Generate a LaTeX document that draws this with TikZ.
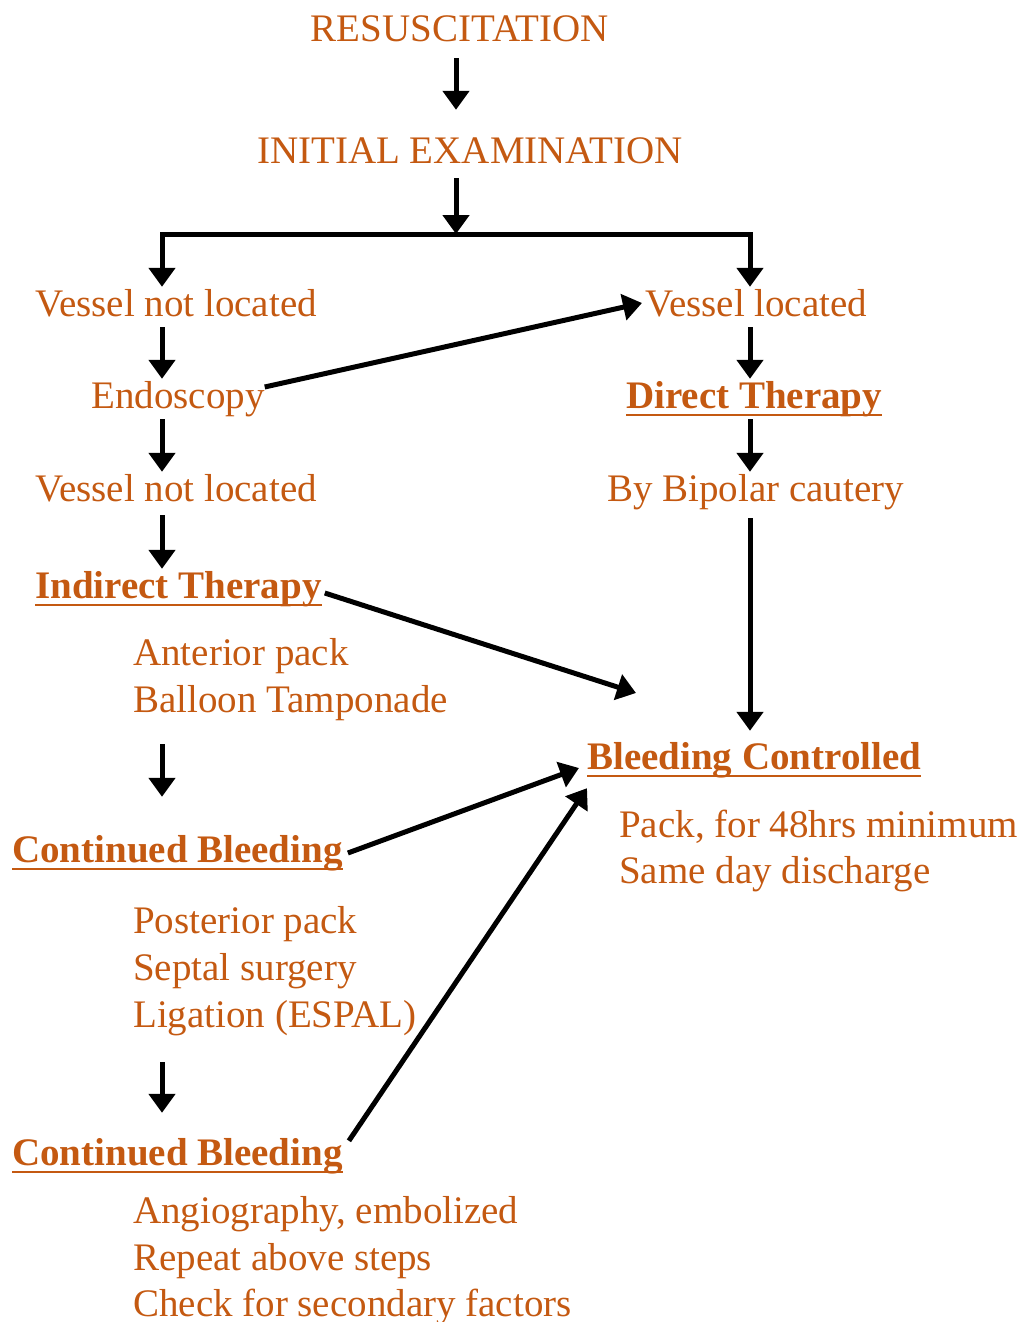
\documentclass[tikz,border=0pt]{standalone}
\usepackage{fontspec}
\setmainfont{Liberation Serif}
\usetikzlibrary{arrows.meta}
\definecolor{flowtxt}{RGB}{196,89,17}
\newcommand\flowfont{\fontsize{39}{47}\selectfont}
\tikzset{
  txt/.style={anchor=base west, inner xsep=0pt, inner ysep=2pt,
    text height=27pt, text depth=9pt, text=flowtxt, font=\flowfont},
  head/.style={txt, font=\flowfont\bfseries},
  arr/.style={line width=5pt, -{Triangle[width=26pt,length=19pt]}},
  ul/.style={draw=flowtxt, line width=2.5pt},
}
\begin{document}
\begin{tikzpicture}[x=1pt,y=-1pt]
	\useasboundingbox (0,0) rectangle (1022,1322);
	% top of the chart
	\node[txt,anchor=base] (rescue) at (460,42) {RESUSCITATION};
	\node[txt,anchor=base] (exam) at (470,163) {INITIAL EXAMINATION};
	\coordinate (mid) at (456,234);
	\coordinate (lcol) at (162,0);
	\coordinate (rcol) at (750,0);
	% left column
	\node[txt] (vnl1) at (35,316) {Vessel not located};
	\node[txt] (endo) at (91,408) {Endoscopy};
	\node[txt] (vnl2) at (35,501) {Vessel not located};
	\node[head] (indirect) at (35,598) {Indirect Therapy};
	\node[txt] (ant1) at (133,665) {Anterior pack};
	\node[txt] (ant2) at (133,712) {Balloon Tamponade};
	\node[head] (cb1) at (12,862) {Continued Bleeding};
	\node[txt] (post1) at (133,933) {Posterior pack};
	\node[txt] (post2) at (133,980) {Septal surgery};
	\node[txt] (post3) at (133,1027) {Ligation (ESPAL)};
	\node[head] (cb2) at (12,1165) {Continued Bleeding};
	\node[txt] (angio1) at (133,1223) {Angiography, embolized};
	\node[txt] (angio2) at (133,1270) {Repeat above steps};
	\node[txt] (angio3) at (133,1316) {Check for secondary factors};
	% right column
	\node[txt] (vl) at (645,316) {Vessel located};
	\node[head] (direct) at (626,408) {Direct Therapy};
	\node[txt] (bipolar) at (607,501) {By Bipolar cautery};
	\node[head] (ctrl) at (587,769) {Bleeding Controlled};
	\node[txt] (pack1) at (619,837) {Pack, for 48hrs minimum};
	\node[txt] (pack2) at (619,883) {Same day discharge};
	\coordinate (ctrlin) at (636,693);
	\foreach \n in {indirect,direct,ctrl,cb1,cb2}{\draw[ul] ([yshift=-7pt]\n.base west) -- ([yshift=-7pt]\n.base east);}
	% arrows
	\draw[arr, shorten <=5pt, shorten >=24pt] (rescue.south -| mid) -- (exam.north -| mid);
	\draw[arr, shorten <=4pt] (exam.south -| mid) -- (mid);
	\draw[arr] (mid) -| (vnl1.north -| lcol);
	\draw[arr] (mid) -| (vl.north -| rcol);
	\draw[arr] (vnl1.south -| lcol) -- (endo.north -| lcol);
	\draw[arr] (endo.south -| lcol) -- (vnl2.north -| lcol);
	\draw[arr, shorten <=3pt] (vnl2.south -| lcol) -- (indirect.north -| lcol);
	\draw[arr, shorten <=21pt, shorten >=36pt] (ant2.south -| lcol) -- (cb1.north -| lcol);
	\draw[arr, shorten <=24pt, shorten >=23pt] (post3.south -| lcol) -- (cb2.north -| lcol);
	\draw[arr] (vl.south -| rcol) -- (direct.north -| rcol);
	\draw[arr] (direct.south -| rcol) -- (bipolar.north -| rcol);
	\draw[arr, shorten <=6pt, shorten >=9pt] (bipolar.south -| rcol) -- (ctrl.north -| rcol);
	\draw[arr] ([yshift=12pt]endo.east) -- ([xshift=-3pt,yshift=4pt]vl.west);
	\draw[arr] ([xshift=3pt,yshift=-4pt]indirect.east) -- (ctrlin);
	\draw[arr] ([xshift=5pt]cb1.east) -- ([xshift=-8pt,yshift=-8pt]ctrl.west);
	\draw[arr] ([xshift=6pt,yshift=-5pt]cb2.north east) -- ([yshift=-8pt]ctrl.south west);
\end{tikzpicture}
\end{document}
